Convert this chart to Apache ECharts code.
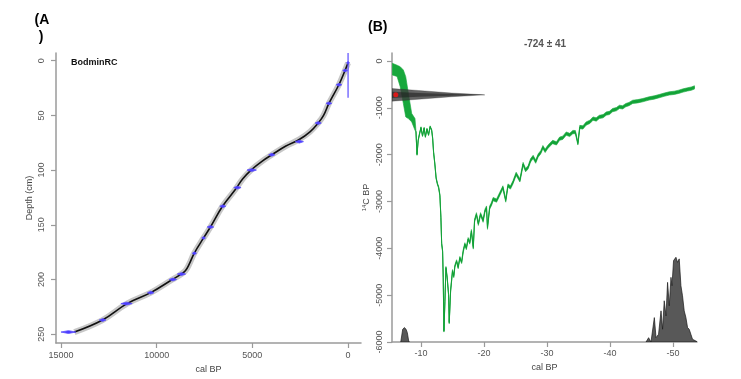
<!DOCTYPE html>
<html>
<head>
<meta charset="utf-8">
<script src="https://cdn.jsdelivr.net/npm/echarts@6/dist/echarts.min.js"></script>
<style>
html,body{margin:0;padding:0;background:#fff;}
#c{width:741px;height:379px;}
</style>
</head>
<body>
<div id="c"></div>
<script>
// ---------- Panel A: age-depth model ----------
const curveDepth = [2, 9, 22, 39, 50, 57, 65, 72, 78, 86, 92, 100, 108, 118, 133, 152, 162, 176, 186, 192, 196, 200, 212, 222, 237, 248];
const curveAge   = [0, 160, 480, 1000, 1280, 1560, 1990, 2550, 3250, 3980, 4500, 5070, 5500, 5900, 6560, 7190, 7550, 8040, 8300, 8500, 8800, 9180, 10310, 11550, 12830, 14300];

const dateDepth = [2, 9, 22, 39, 57, 74, 86, 100, 116, 133, 152, 162, 176, 195, 200, 212, 222, 237, 248];
const dateAgeLo = [-80, 30, 330, 850, 1400, 2330, 3820, 4790, 5590, 6390, 7020, 7450, 7920, 8490, 8960, 10140, 11280, 12650, 14220];
const dateAgeHi = [80, 280, 620, 1150, 1720, 2760, 4150, 5280, 5970, 6700, 7360, 7650, 8140, 8920, 9350, 10480, 11870, 13000, 15000];
const topDateAge = [0];
const topDateDepthFrom = [-7];
const topDateDepthTo = [34];

const ageTicks = [0, 5000, 10000, 15000];
const depthTicks = [0, 50, 100, 150, 200, 250];

// ---------- Panel B: calibration ----------
const greenCal = [-5.45,-6.2,-6.7,-7.2,-7.58,-8.0,-8.53,-9.05,
 -9.2,-9.37,-9.55,-9.76,-10.0,-10.24,-10.5,-10.7,-10.95,-11.2,-11.45,-11.7,-11.85,-12.0,-12.2,-12.4,-12.6,-12.8,-13.0,-13.16,-13.28,-13.43,-13.53,-13.64,
 -13.8,-13.96,-14.16,-14.38,-14.48,-14.7,-15.0,-15.2,-15.38,-15.65,-15.9,-16.17,-16.45,-16.7,-16.96,-17.2,-17.48,-17.75,-18.0,-18.3,-18.5,-18.8,-19.1,-19.45,
 -19.86,-20.15,-20.4,-20.55,-20.9,-21.2,-21.44,-22.0,-22.5,-23.0,-23.45,-23.8,-24.2,-24.6,-25.1,-25.7,-26.2,-26.6,-27.0,-27.4,-27.8,-28.2,-28.6,-29.0,
 -29.35,-29.7,-30.1,-30.5,-30.9,-31.5,-32.0,-32.5,-33.05,-33.6,-34.1,-34.5,-34.9,-35.2,-35.7,-36.2,-36.8,-37.3,-37.8,-38.3,-38.9,-39.4,-39.9,-40.4,
 -41.0,-41.5,-42.0,-42.5,-43.0,-43.6,-44.4,-45.2,-46.2,-47.0,-47.8,-48.6,-49.4,-50.2,-50.9,-51.6,-52.3,-52.9,-53.4];
const greenMid = [-175,-210,-336,-550,-765,-960,-1212,-1355,
 -1500,-2000,-1700,-1560,-1420,-1600,-1430,-1620,-1450,-1580,-1400,-1480,-1650,-1950,-2200,-2500,-2620,-2700,-2870,-3340,-3900,-4060,-4630,-5770,
 -5130,-4410,-4630,-4990,-5590,-4910,-4480,-4600,-4380,-4270,-4410,-4200,-4300,-4060,-3910,-4000,-3800,-3880,-3630,-3985,-3410,-3270,-3480,-3270,
 -3410,-3200,-3130,-3560,-3130,-3050,-2950,-2980,-2840,-2700,-2980,-2660,-2700,-2590,-2410,-2550,-2200,-2330,-2270,-2120,-2050,-2150,-2017,-1950,
 -1840,-1920,-1840,-1780,-1730,-1760,-1660,-1640,-1550,-1580,-1517,-1520,-1765,-1410,-1420,-1337,-1300,-1230,-1250,-1195,-1180,-1122,-1110,-1050,
 -1030,-980,-990,-944,-920,-873,-860,-837,-800,-780,-751,-720,-693,-680,-658,-630,-607,-590,-565];
const greenHalf = [125,120,214,358,430,270,90,125,
 15,15,15,15,15,15,15,15,15,15,15,15,15,15,18,18,18,18,18,18,18,18,18,18,
 22,22,22,22,22,22,26,26,26,26,26,26,26,30,30,30,30,32,32,32,32,32,32,32,
 35,35,35,35,35,35,35,35,35,35,35,35,35,35,35,35,35,35,35,35,35,35,35,35,
 35,35,35,35,35,35,35,35,35,35,35,35,30,35,35,35,35,35,35,35,35,35,35,35,
 35,35,35,35,35,35,35,35,35,35,35,35,35,35,35,35,35,35,35];

const histCal = [-45.71,-46.12,-46.5,-47.03,-47.3,-47.7,-48.09,-48.34,-48.6,-48.88,-49.13,-49.4,-49.67,-49.83,-50.08,-50.46,-50.71,-50.98,-51.25,-51.5,-51.77,-52.04,-52.3,-52.56,-52.83,-53.09,-53.62,-53.88];
const histC14 = [-6000,-5908,-6000,-5479,-5908,-5835,-5335,-5727,-5120,-5442,-4727,-5227,-4620,-4798,-4262,-4191,-4298,-4225,-4798,-5013,-5335,-5479,-5693,-5727,-5835,-5942,-5979,-6000];
const hist2Cal = [-6.79,-7.1,-7.36,-7.63,-7.83,-8.05,-8.15];
const hist2C14 = [-6000,-5727,-5693,-5727,-5800,-5979,-6000];

const normCal = [-5.4,-9.57,-14.86,-20.13,-14.86,-9.57,-5.4];
const normOuter = [-590,-630,-685,-724,-763,-818,-858];
const normInner = [-655,-683,-706,-724,-742,-765,-793];
const measured = [-6.0, -724];

const calTicks = [-10,-20,-30,-40,-50];
const c14Ticks = [0,-1000,-2000,-3000,-4000,-5000,-6000];

const FONT = 'Liberation Sans, Arial, sans-serif';
const AX = '#9a9a9a';
const LAB = '#555';
const plain = function (v) { return String(v); };

function polySeries(idx, pts, style, z) {
  return {
    type: 'custom', xAxisIndex: idx, yAxisIndex: idx, z: z, silent: true, clip: true,
    data: pts, encode: {x: 0, y: 1},
    renderItem: function (params, api) {
      if (params.dataIndex !== 0) return null;
      return {type: 'polygon', shape: {points: pts.map(function (p) { return api.coord(p); })}, style: style};
    }
  };
}

function axisBase(ticks, extra, labelExtra) {
  return Object.assign({
    type: 'value',
    axisLine: {show: true, onZero: false, lineStyle: {color: AX, width: 1.5}},
    axisTick: {show: true, length: 5, customValues: ticks, lineStyle: {color: AX, width: 1.2}},
    axisLabel: Object.assign({customValues: ticks, fontSize: 9, color: LAB, fontFamily: FONT, formatter: plain}, labelExtra),
    splitLine: {show: false},
    nameLocation: 'middle',
    nameTextStyle: {fontSize: 9, color: '#444', fontFamily: FONT}
  }, extra);
}

// build data
const curveData = curveAge.map(function (a, i) { return [a, curveDepth[i]]; });
const dateData = dateDepth.map(function (d, i) { return [dateAgeLo[i], d, dateAgeHi[i]]; });
const topDateData = topDateAge.map(function (a, i) { return [a, topDateDepthFrom[i], topDateDepthTo[i]]; });

const bandPts = [];
for (let i = 0; i < greenCal.length; i++) bandPts.push([greenCal[i], greenMid[i] + greenHalf[i]]);
for (let i = greenCal.length - 1; i >= 0; i--) bandPts.push([greenCal[i], greenMid[i] - greenHalf[i]]);
const histPts = histCal.map(function (c, i) { return [c, histC14[i]]; });
const hist2Pts = hist2Cal.map(function (c, i) { return [c, hist2C14[i]]; });
const normOutPts = normCal.map(function (c, i) { return [c, normOuter[i]]; });
const normInPts = normCal.map(function (c, i) { return [c, normInner[i]]; });
const greenLine = greenCal.map(function (c, i) { return [c, greenMid[i]]; }).slice(8);

const chart = echarts.init(document.getElementById('c'), null, {renderer: 'canvas'});
chart.setOption({
  animation: false,
  backgroundColor: '#fff',
  textStyle: {fontFamily: FONT},
  grid: [
    {left: 56, top: 53, width: 305, height: 290},
    {left: 392, top: 53, width: 305, height: 289}
  ],
  xAxis: [
    axisBase(ageTicks, {gridIndex: 0, min: -676, max: 15260, inverse: true, name: 'cal BP', nameGap: 20}, {margin: 8}),
    axisBase(calTicks, {gridIndex: 1, min: -53.8, max: -5.4, inverse: true, name: 'cal BP', nameGap: 17}, {margin: 7})
  ],
  yAxis: [
    axisBase(depthTicks, {gridIndex: 0, min: -7, max: 258, inverse: true, name: 'Depth (cm)', nameGap: 22}, {rotate: 90, margin: 10}),
    axisBase(c14Ticks, {gridIndex: 1, min: -6000, max: 170, name: '{s|14}C BP', nameGap: 20,
      nameTextStyle: {fontSize: 9, color: '#444', fontFamily: FONT,
        rich: {s: {fontSize: 6, color: '#444', fontFamily: FONT, verticalAlign: 'top', padding: [0, 0, 5, 0]}}}}, {rotate: 90, margin: 8})
  ],
  graphic: [
    {type: 'text', x: 42, y: 20, style: {text: '(A', font: 'bold 14px ' + FONT, fill: '#000', align: 'center', verticalAlign: 'middle'}},
    {type: 'text', x: 41, y: 37, style: {text: ')', font: 'bold 14px ' + FONT, fill: '#000', align: 'center', verticalAlign: 'middle'}},
    {type: 'text', x: 368, y: 27, style: {text: '(B)', font: 'bold 14px ' + FONT, fill: '#000', align: 'left', verticalAlign: 'middle'}},
    {type: 'text', x: 71, y: 63, style: {text: 'BodminRC', font: 'bold 9px ' + FONT, fill: '#111', align: 'left', verticalAlign: 'middle'}},
    {type: 'text', x: 545, y: 44, style: {text: '-724 \u00B1 41', font: 'bold 10px ' + FONT, fill: '#555', align: 'center', verticalAlign: 'middle'}}
  ],
  series: [
    // Panel A
    {type: 'line', xAxisIndex: 0, yAxisIndex: 0, data: curveData, smooth: 0.4, symbol: 'none', silent: true, z: 2,
      lineStyle: {color: 'rgba(0,0,0,0.22)', width: 6}},
    {type: 'line', xAxisIndex: 0, yAxisIndex: 0, data: curveData, smooth: 0.4, symbol: 'none', silent: true, z: 3,
      lineStyle: {color: '#111', width: 1.6}},
    {type: 'custom', xAxisIndex: 0, yAxisIndex: 0, z: 4, silent: true, data: dateData, encode: {x: [0, 2], y: 1},
      renderItem: function (params, api) {
        const lo = api.value(0), d = api.value(1), hi = api.value(2);
        const mid = (lo + hi) / 2;
        const pts = [api.coord([lo, d]), api.coord([mid, d - 1.3]), api.coord([hi, d]), api.coord([mid, d + 1.3])];
        return {type: 'polygon', shape: {points: pts}, style: {fill: '#4a3cff', stroke: '#5a4cff', lineWidth: 0.8}};
      }},
    {type: 'custom', xAxisIndex: 0, yAxisIndex: 0, z: 4, silent: true, data: topDateData, encode: {x: 0, y: [1, 2]},
      renderItem: function (params, api) {
        const a = api.value(0);
        const p1 = api.coord([a, api.value(1)]), p2 = api.coord([a, api.value(2)]);
        return {type: 'line', shape: {x1: p1[0], y1: p1[1], x2: p2[0], y2: p2[1]}, style: {stroke: '#5a4cff', lineWidth: 1.2}};
      }},
    // Panel B
    polySeries(1, bandPts, {fill: '#17a83c', stroke: '#17a83c', lineWidth: 0.6}, 2),
    {type: 'line', xAxisIndex: 1, yAxisIndex: 1, data: greenLine, symbol: 'none', silent: true, z: 2,
      lineStyle: {color: '#10a035', width: 1}},
    polySeries(1, normOutPts, {fill: 'rgba(60,60,60,0.8)', stroke: 'rgba(40,40,40,0.6)', lineWidth: 0.5}, 3),
    polySeries(1, normInPts, {fill: 'rgba(30,30,30,0.55)'}, 3),
    polySeries(1, histPts, {fill: '#585858', stroke: '#1a1a1a', lineWidth: 0.7}, 3),
    polySeries(1, hist2Pts, {fill: '#585858', stroke: '#1a1a1a', lineWidth: 0.7}, 3),
    {type: 'scatter', xAxisIndex: 1, yAxisIndex: 1, data: [measured], symbol: 'circle', symbolSize: 5, silent: true, z: 5,
      itemStyle: {color: '#ff1010'}}
  ]
});
</script>
</body>
</html>
